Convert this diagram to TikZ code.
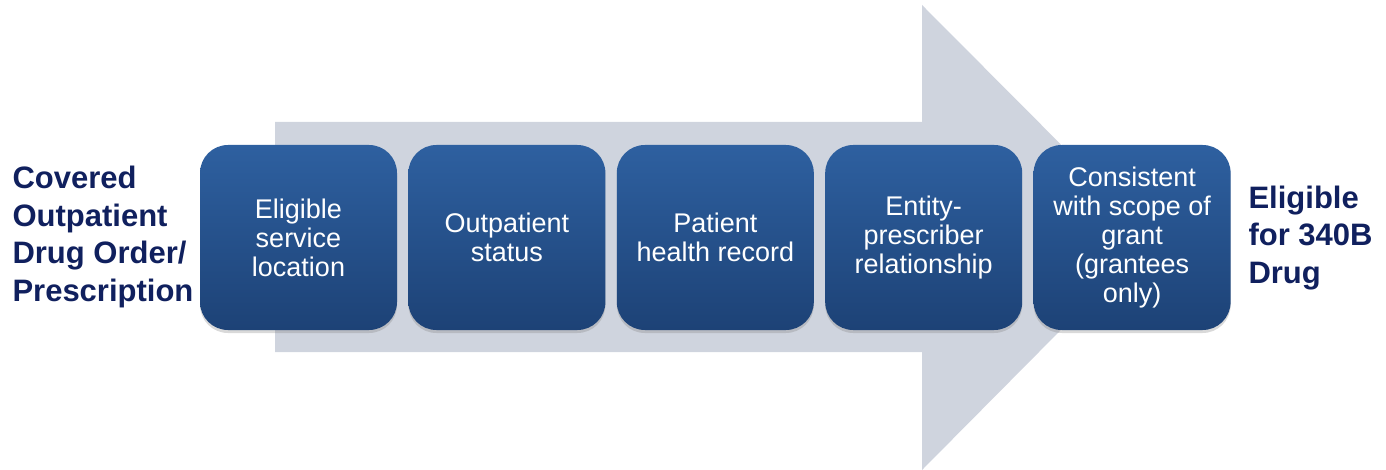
\documentclass[tikz,border=0pt]{standalone}
\usepackage{fontspec}
\setmainfont{Liberation Sans}
\usetikzlibrary{positioning,shadows}

\definecolor{boxtop}{RGB}{46,96,160}
\definecolor{boxbot}{RGB}{29,66,118}
\definecolor{navytext}{RGB}{16,32,94}
\definecolor{arrowgray}{RGB}{207,212,222}

\begin{document}
\begin{tikzpicture}[x=1pt, y=-1pt, node distance=11pt,
	stage/.style={rounded corners=28pt, minimum width=197pt, minimum height=185pt,
		inner sep=2pt, align=center, text=white, top color=boxtop, bottom color=boxbot,
		drop shadow={opacity=0.3, shadow xshift=0pt, shadow yshift=-3pt},
		font=\fontsize{27}{29}\selectfont},
	endlabel/.style={anchor=west, align=left, text=navytext,
		font=\fontsize{31}{37.5}\selectfont\bfseries}]
	\useasboundingbox (0,0) rectangle (1386,470);

	% Big background arrow
	\fill[arrowgray] (275,122) -- (922,122) -- (922,5) -- (1153,237)
		-- (922,470) -- (922,352) -- (275,352) -- cycle;

	% Steps
	\node[stage] (s1) at (298.5,237.5) {Eligible\\service\\location};
	\node[stage, right=of s1] (s2) {Outpatient\\status};
	\node[stage, right=of s2] (s3) {Patient\\health record};
	\node[stage, right=of s3] (s4) {Entity-\\prescriber\\relationship};
	\node[stage, right=of s4] (s5) {Consistent\\with scope of\\grant\\(grantees\\only)};

	% Start and end
	\node[endlabel] (start) at (9,237) {Covered\\Outpatient\\Drug Order/\\Prescription};
	\node[endlabel] (goal) at (1245,238) {Eligible\\for 340B\\Drug};
\end{tikzpicture}
\end{document}
